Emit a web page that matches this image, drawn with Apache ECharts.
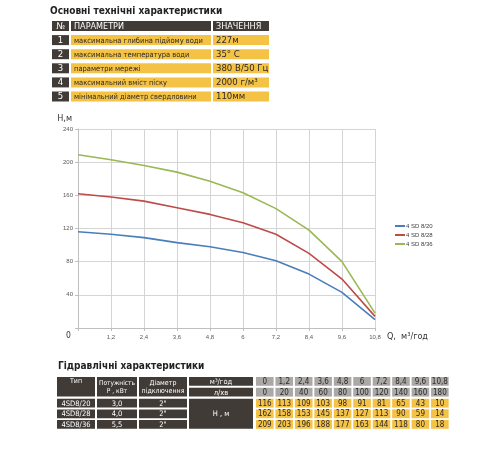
<!DOCTYPE html>
<html><head><meta charset="utf-8">
<script src="https://cdn.jsdelivr.net/npm/echarts@6/dist/echarts.min.js"></script>
<style>html,body{margin:0;padding:0;background:#fff}#c{width:500px;height:450px}</style>
</head><body><div id="c"></div>
<script>
// ---- data ----
const qValues = [0, 1.2, 2.4, 3.6, 4.8, 6, 7.2, 8.4, 9.6, 10.8];
const lpmValues = [0, 20, 40, 60, 80, 100, 120, 140, 160, 180];
const h20 = [116, 113, 109, 103, 98, 91, 81, 65, 43, 10];
const h28 = [162, 158, 153, 145, 137, 127, 113, 90, 59, 14];
const h36 = [209, 203, 196, 188, 177, 163, 144, 118, 80, 18];
const seriesNames = ['4 SD 8/20', '4 SD 8/28', '4 SD 8/36'];
const pumpTypes = ['4SD8/20', '4SD8/28', '4SD8/36'];
const pumpPower = ['3,0', '4,0', '5,5'];
const pumpDiameter = ['2"', '2"', '2"'];
const paramNums = ['1', '2', '3', '4', '5'];
const paramNames = ['максимальна глибина підйому води', 'максимальна температура води', 'параметри мережі', 'максимальний вміст піску', 'мінімальний діаметр свердловини'];
const paramValues = ['227м', '35° C', '380 В/50 Гц', '2000 г/м³', '110мм'];

// ---- styles ----
const FONT = '"Liberation Sans Narrow","DejaVu Sans Condensed","Roboto Condensed",sans-serif';
const DARK = '#403b36', YEL = '#f4c245', GRAY = '#aaa9a7', TXT = '#2e2a26';
const fmt = v => String(Math.round(v * 10) / 10).replace('.', ',');

const g = [];
function cell(x, y, w, h, fill, text, color, size, weight, align) {
  g.push({type: 'rect', silent: true, shape: {x, y, width: w, height: h}, style: {fill}});
  if (text !== undefined && text !== null) {
    const a = align || 'center';
    g.push({type: 'text', silent: true, style: {
      text, x: a === 'left' ? x + 3 : x + w / 2, y: y + h / 2 + 0.5,
      align: a, verticalAlign: 'middle', fill: color,
      font: (weight || 'normal') + ' ' + size + 'px ' + FONT, lineHeight: size + 1
    }});
  }
}
// titles
g.push({type: 'text', silent: true, style: {text: 'Основні технічні характеристики', x: 50, y: 11, verticalAlign: 'middle', fill: '#222', font: 'bold 10px ' + FONT}});
g.push({type: 'text', silent: true, style: {text: 'Гідравлічні характеристики', x: 58, y: 366, verticalAlign: 'middle', fill: '#222', font: 'bold 10px ' + FONT}});

// top table
const tTop = 21, tPitch = 14.1, tH = 10;
cell(52, tTop, 17, tH, DARK, '№', '#fff', 9);
cell(71, tTop, 140, tH, DARK, 'ПАРАМЕТРИ', '#fff', 9, 'normal', 'left');
cell(213, tTop, 56, tH, DARK, 'ЗНАЧЕННЯ', '#fff', 9, 'normal', 'left');
paramNums.forEach((n, i) => {
  const y = tTop + (i + 1) * tPitch;
  cell(52, y, 17, tH, DARK, n, '#fff', 9.5);
  cell(71, y, 140, tH, YEL, paramNames[i], TXT, 7.5, 'normal', 'left');
  cell(213, y, 56, tH, YEL, paramValues[i], TXT, 9.5, 'normal', 'left');
});

// bottom table
const rT = [377, 387.8, 398.8, 409.4, 420], rH = 8.8;
cell(57, 377, 38, 19.6, DARK, 'Тип', '#fff', 7);
g[g.length - 1].style.y = 381;
cell(97, 377, 40, 19.6, DARK, 'Потужність\nР , кВт', '#fff', 6.6);
cell(139, 377, 48, 19.6, DARK, 'Діаметр\nпідключення', '#fff', 7);
cell(189, rT[0], 64, rH, DARK, 'м³/год', '#fff', 7.5);
cell(189, rT[1], 64, rH, DARK, 'л/хв', '#fff', 7.5);
cell(189, rT[2], 64, rT[4] + rH - rT[2], DARK, 'Н , м', '#fff', 7.5);
pumpTypes.forEach((t, i) => {
  cell(57, rT[i + 2], 38, rH, DARK, t, '#fff', 7.5);
  cell(97, rT[i + 2], 40, rH, DARK, pumpPower[i], '#fff', 7.5);
  cell(139, rT[i + 2], 48, rH, DARK, pumpDiameter[i], '#fff', 7.5);
});
const hRows = [h20, h28, h36];
qValues.forEach((q, j) => {
  const x = 256 + j * 19.45, w = 17.6;
  cell(x, rT[0], w, rH, GRAY, fmt(q), TXT, 8);
  cell(x, rT[1], w, rH, GRAY, String(lpmValues[j]), TXT, 8);
  hRows.forEach((arr, k) => cell(x, rT[k + 2], w, rH, YEL, String(arr[j]), TXT, 8));
});

const colors = ['#4a7ebb', '#be4b48', '#98b954'];
const chart = echarts.init(document.getElementById('c'), null, {renderer: 'canvas'});
chart.setOption({
  animation: false,
  color: colors,
  grid: {left: 78, right: 125, top: 129, bottom: 122, containLabel: false},
  legend: {
    orient: 'vertical', left: 390, top: 218, itemWidth: 10, itemHeight: 2, itemGap: 3,
    icon: 'rect',
    textStyle: {fontSize: 6, color: '#404040', fontFamily: 'Liberation Sans, sans-serif', padding: [0, 0, 0, -4]},
    data: seriesNames
  },
  xAxis: {
    type: 'value', min: 0, max: 10.8, interval: 1.2,
    name: 'Q,  м³/год', nameLocation: 'end', nameGap: 12,
    nameTextStyle: {fontSize: 9, color: '#333', fontFamily: FONT, verticalAlign: 'top', padding: [4, 0, 0, 0]},
    axisLine: {lineStyle: {color: '#bfbfbf', width: 1}},
    axisTick: {show: true, length: 3, lineStyle: {color: '#bfbfbf'}},
    splitLine: {show: true, lineStyle: {color: '#d4d4d4', width: 1}},
    axisLabel: {
      fontSize: 6, color: '#595959', margin: 6,
      formatter: v => v === 0 ? '{z|0}' : fmt(v),
      rich: {z: {fontSize: 8.5, color: '#333', padding: [0, 19, 0, 0], lineHeight: 4, fontFamily: FONT}}
    }
  },
  yAxis: {
    type: 'value', min: 0, max: 240, interval: 40,
    name: 'H,м', nameLocation: 'end', nameGap: 6,
    nameTextStyle: {fontSize: 9, color: '#333', fontFamily: FONT, align: 'right', padding: [0, 6, 0, 0]},
    axisLine: {show: true, lineStyle: {color: '#bfbfbf', width: 1}},
    axisTick: {show: true, length: 3, lineStyle: {color: '#bfbfbf'}},
    splitLine: {show: true, lineStyle: {color: '#d4d4d4', width: 1}},
    axisLabel: {fontSize: 6, color: '#595959', margin: 5, formatter: v => v === 0 ? '' : String(v)}
  },
  series: [h20, h28, h36].map((arr, i) => ({
    name: seriesNames[i], type: 'line', showSymbol: false, symbol: 'none',
    lineStyle: {width: 1.6, color: colors[i]},
    data: qValues.map((q, j) => [q, arr[j]])
  })),
  graphic: g
});
</script></body></html>
